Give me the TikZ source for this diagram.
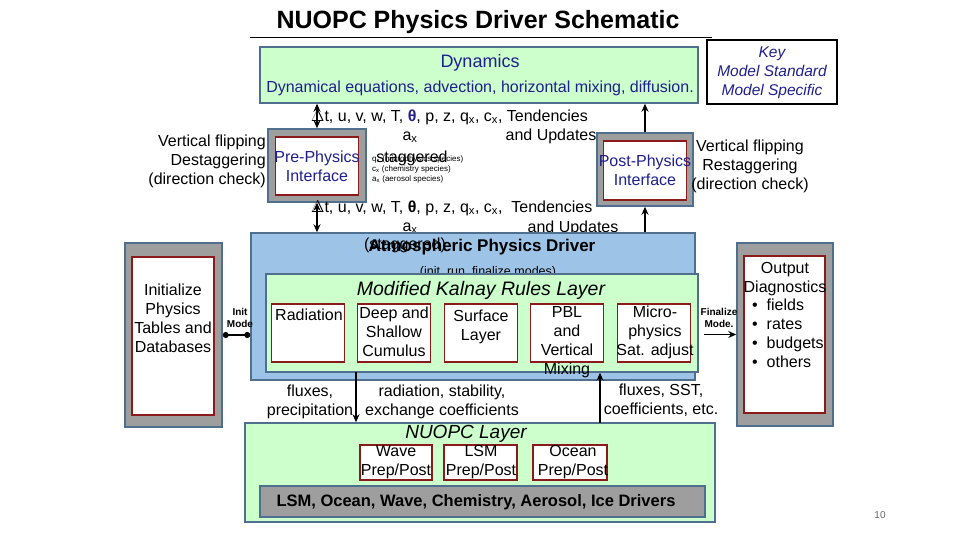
\documentclass[tikz,border=0pt]{standalone}
\usepackage{fontspec}
\setmainfont{Liberation Sans}
\usetikzlibrary{arrows.meta,positioning}
\definecolor{lgreen}{HTML}{CCFFCC}
\definecolor{frame}{HTML}{4F6F8F}
\definecolor{dred}{HTML}{8B1A1A}
\definecolor{drvblue}{HTML}{9DC3E6}
\definecolor{navy}{HTML}{1F1F8F}
\tikzset{
  txt/.style={font=\fontsize{16}{19}\selectfont,align=center,inner sep=0pt},
  small/.style={font=\fontsize{12.5}{14}\selectfont,align=center,inner sep=0pt},
  tiny/.style={font=\fontsize{8}{9}\selectfont,align=left,inner sep=0pt,anchor=west},
  layer/.style={draw=frame,line width=1.5pt,fill=lgreen,inner sep=0pt},
  outer/.style={draw=frame,line width=1.5pt,fill=black!38,inner sep=0pt},
  inner/.style={draw=dred,line width=1.5pt,fill=white,inner sep=0pt},
  line/.style={draw,line width=1.8pt,-{Stealth[length=8pt,width=7pt]}},
}
\begin{document}
\begin{tikzpicture}[x=1pt,y=-1pt]
  \useasboundingbox (0,0) rectangle (960,540);
  % title
  \node[font=\fontsize{25}{28}\selectfont\bfseries] (title) at (478,22) {NUOPC Physics Driver Schematic};
  \draw[line width=1pt] (250,38) -- (712,38);

  % dynamics and key
  \node[layer,minimum width=438,minimum height=56] (dyn) at (479,75) {};
  \node[txt,font=\fontsize{18}{20}\selectfont,text=navy] (dyntitle) at (480,63) {Dynamics};
  \node[txt,text=navy] (dyntext) at (480,88) {Dynamical equations, advection, horizontal mixing, diffusion.};
  \node[draw,line width=2pt,minimum width=130,minimum height=64,inner sep=0pt] (key) at (772,72) {};
  \node[txt,font=\fontsize{15.5}{19}\selectfont\itshape,text=navy] (keytext) at (772,73) {Key\\Model Standard\\Model Specific};

  % pre- and post-physics interfaces
  \node[outer,minimum width=98,minimum height=73] (pre) at (317,165.5) {};
  \node[inner,minimum width=83,minimum height=58] (prein) at (317,166) {};
  \node[txt,text=navy] (pretext) at (317,166) {Pre-Physics\\Interface};
  \node[outer,minimum width=96,minimum height=73] (post) at (645,169.5) {};
  \node[inner,minimum width=83,minimum height=59] (postin) at (645,170.5) {};
  \node[txt,text=navy] (posttext) at (645,170) {Post-Physics\\Interface};
  \node[txt,align=right,anchor=east] (prelabel) at (266,161) {Vertical flipping\\Destaggering\\(direction check)};
  \node[txt] (postlabel) at (750,166) {Vertical flipping\\Restaggering\\(direction check)};

  % state variables
  \node[txt,anchor=west] (varsup) at (311,117) {$\Delta$t, u, v, w, T, \textcolor{navy}{\textbf{θ}}, p, z, q\textsubscript{x}, c\textsubscript{x}, Tendencies};
  \node[txt] (axup) at (410,137) {a\textsubscript{x}};
  \node[txt] (updup) at (551,136) {and Updates};
  \node[txt] (stagup) at (412,158) {staggered};
  \node[tiny] (species) at (372,169) {q\textsubscript{x} (microphysics species)\\[1pt]c\textsubscript{x} (chemistry species)\\[1pt]a\textsubscript{x} (aerosol species)};
  \node[txt,anchor=west] (varsdown) at (311,208) {$\Delta$t, u, v, w, T, \textbf{θ}, p, z, q\textsubscript{x}, c\textsubscript{x},\ \ Tendencies};
  \node[txt] (axdown) at (410,228) {a\textsubscript{x}};
  \node[txt] (upddown) at (573,228) {and Updates};

  % atmospheric physics driver
  \node[draw=frame,line width=1.5pt,fill=drvblue,minimum width=444,minimum height=147,inner sep=0pt] (drv) at (473,306.5) {};
  \node[txt] (stagdown) at (405,245) {(staggered)};
  \node[txt,font=\fontsize{17}{19}\selectfont\bfseries] (drvtitle) at (482,247) {Atmospheric Physics Driver};
  \node[small] (modes) at (488,272) {(init, run, finalize modes)};
  \node[layer,minimum width=432,minimum height=98] (kal) at (482,323) {};
  \node[txt,font=\fontsize{19.5}{21}\selectfont\itshape] (kaltitle) at (481,290) {Modified Kalnay Rules Layer};
  \node[inner,minimum width=73,minimum height=58] (rad) at (308,333) {};
  \node[inner,minimum width=73,minimum height=58] (deep) at (394,333) {};
  \node[inner,minimum width=73,minimum height=58] (sfc) at (481,333) {};
  \node[inner,minimum width=73,minimum height=58] (pbl) at (567,333) {};
  \node[inner,minimum width=73,minimum height=58] (micro) at (654,333) {};
  \node[txt] (radtext) at (309,315) {Radiation};
  \node[txt] (deeptext) at (394,332) {Deep and\\Shallow\\Cumulus};
  \node[txt] (sfctext) at (481,327) {Surface\\Layer};
  \node[txt] (pbltext) at (567,342) {PBL\\and\\Vertical\\Mixing};
  \node[txt] (microtext) at (655,332) {Micro-\\physics\\Sat. adjust};

  % initialize and output
  \node[outer,minimum width=97,minimum height=184] (init) at (173.5,335) {};
  \node[inner,minimum width=82,minimum height=158] (initin) at (173,336) {};
  \node[txt] (inittext) at (173,318) {Initialize\\Physics\\Tables and\\Databases};
  \node[outer,minimum width=96,minimum height=183] (out) at (785,334.5) {};
  \node[inner,minimum width=81,minimum height=157] (outin) at (784.5,334.5) {};
  \node[txt] (outtext) at (785,279) {Output\\Diagnostics};
  \node[txt,align=left,anchor=north west] (outlist) at (752,299) {\textbullet\ \ fields\\\textbullet\ \ rates\\\textbullet\ \ budgets\\\textbullet\ \ others};
  \node[font=\fontsize{10}{12}\selectfont\bfseries,align=center,inner sep=0pt] (initmode) at (240,318) {Init\\Mode};
  \node[font=\fontsize{10}{12}\selectfont\bfseries,align=center,inner sep=0pt] (finmode) at (719,318) {Finalize\\Mode.};

  % nuopc layer
  \node[layer,minimum width=470,minimum height=99] (nuopc) at (480,472.5) {};
  \node[txt,font=\fontsize{19}{21}\selectfont\itshape] (nuopctitle) at (466,434) {NUOPC Layer};
  \node[inner,minimum width=72,minimum height=35] (wave) at (396,462.5) {};
  \node[inner,minimum width=73,minimum height=35] (lsm) at (480.5,462.5) {};
  \node[inner,minimum width=74,minimum height=35] (ocean) at (570,462.5) {};
  \node[txt] (wavetext) at (396,462) {Wave\\Prep/Post};
  \node[txt] (lsmtext) at (481,462) {LSM\\Prep/Post};
  \node[txt] (oceantext) at (573,462) {Ocean\\Prep/Post};
  \node[draw=frame,line width=1.5pt,fill=black!38,minimum width=445,minimum height=31,inner sep=0pt] (drivers) at (482.5,501.5) {};
  \node[txt,font=\fontsize{16.5}{18}\selectfont\bfseries] (driverstext) at (476,502) {LSM, Ocean, Wave, Chemistry, Aerosol, Ice Drivers};

  % coupling labels
  \node[txt] (fluxl) at (310,402) {fluxes,\\precipitation};
  \node[txt] (radl) at (442,402) {radiation, stability,\\exchange coefficients};
  \node[txt] (sstl) at (661,400) {fluxes, SST,\\coefficients, etc.};
  \node[font=\fontsize{10}{12}\selectfont,text=black!60] (page) at (880,515) {10};

  % connectors
  \coordinate (fluxdown) at (356,372);
  \coordinate (sstup) at (600,423);
  \path [line,{Stealth[length=8pt,width=7pt]}-{Stealth[length=8pt,width=7pt]}] (pre.north) -- (pre.north |- dyn.south);
  \path [line,{Stealth[length=8pt,width=7pt]}-{Stealth[length=8pt,width=7pt]}] (pre.south) -- (pre.south |- drv.north);
  \path [line] (post.north) -- (post.north |- dyn.south);
  \path [line] (post.south |- drv.north) -- (post.south);
  \path [line] (fluxdown) -- (fluxdown |- nuopc.north);
  \path [line] (sstup) -- (sstup |- kal.south);
  \path [line] (out.west -| kal.east) ++(5,0) -- (out.west);
  \draw[line width=1.8pt,{Circle[length=6pt]}-{Circle[length=6pt]}] (init.east) -- (init.east -| drv.west);
\end{tikzpicture}
\end{document}
